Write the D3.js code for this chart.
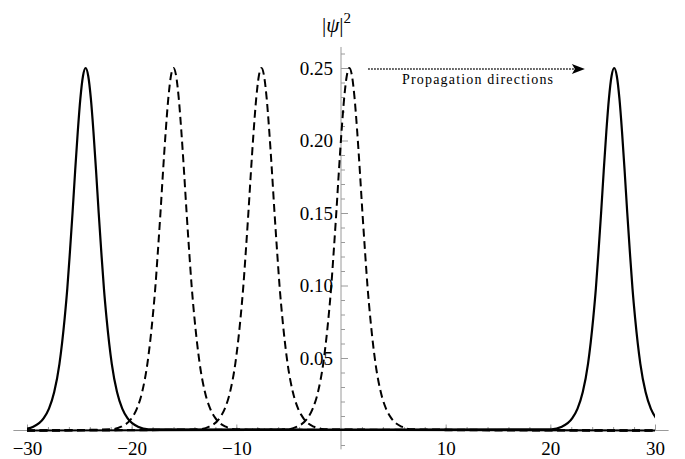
<!DOCTYPE html>
<html>
<head>
    <meta charset="utf-8" />
    <title>|psi|^2 propagation</title>
    <script src="https://d3js.org/d3.v7.min.js"></script>
    <style>
        body { margin: 0; background: white; }
        text { font-family: "Liberation Serif", "Times New Roman", serif; fill: black; }
    </style>
</head>
<body>
    <svg id="chart" width="685" height="459"></svg>
    <script>

        // tick values
        let xTicksMajor = [-30, -20, -10, 10, 20, 30];
        let xTicksMinor = [-30, -28, -26, -24, -22, -20, -18, -16, -14, -12, -10, -8, -6, -4, -2,
            2, 4, 6, 8, 10, 12, 14, 16, 18, 20, 22, 24, 26, 28, 30];
        let yTicksMajor = [0.05, 0.10, 0.15, 0.20, 0.25];
        let yTicksMinor = [-0.01, 0.01, 0.02, 0.03, 0.04, 0.06, 0.07, 0.08, 0.09, 0.11, 0.12, 0.13, 0.14,
            0.16, 0.17, 0.18, 0.19, 0.21, 0.22, 0.23, 0.24, 0.26];

        // peak positions
        let solidCenters = [-24.4, 26.1];
        let dashedCenters = [-16.0, -7.6, 0.8];

        // pulse profile (offset from peak -> |psi|^2)
        let profileOffsets = [-6, -5, -4, -3.5, -3, -2.5, -2, -1.75, -1.5, -1.25, -1, -0.75, -0.5, -0.25, 0,
            0.25, 0.5, 0.75, 1, 1.25, 1.5, 1.75, 2, 2.5, 3, 3.5, 4, 5, 6];
        let profileValues = [0.0008, 0.0026, 0.0085, 0.0151, 0.0265, 0.046, 0.0775, 0.0978, 0.123, 0.150, 0.179, 0.206, 0.229, 0.2445, 0.25,
            0.2445, 0.229, 0.206, 0.179, 0.150, 0.123, 0.0978, 0.0775, 0.046, 0.0265, 0.0151, 0.0085, 0.0026, 0.0008];

        // arrow annotation
        let arrowFrom = 2.6, arrowTo = 23.3, arrowLevel = 0.2493;
        let noteText = "Propagation directions";

        let svg = d3.select("#chart");

        let x = d3.scaleLinear().domain([-30, 30]).range([27, 655]);
        let y = d3.scaleLinear().domain([0, 0.25]).range([430.5, 68]);

        let axisColor = "#9a9a9a";

        // clip curves to the plotted range
        svg.append("clipPath").attr("id", "plotclip")
            .append("rect")
            .attr("x", x(-30)).attr("y", 0)
            .attr("width", x(30) - x(-30)).attr("height", 459);

        // x axis
        svg.append("line")
            .attr("x1", x(-31.3)).attr("x2", x(31.3))
            .attr("y1", y(0)).attr("y2", y(0))
            .attr("stroke", axisColor).attr("stroke-width", 1);

        let gxMinor = svg.append("g").attr("transform", "translate(0," + y(0) + ")")
            .call(d3.axisBottom(x).tickValues(xTicksMinor).tickSize(-3.5).tickFormat(""));
        let gxMajor = svg.append("g").attr("transform", "translate(0," + y(0) + ")")
            .call(d3.axisBottom(x).tickValues(xTicksMajor).tickSize(-6).tickPadding(11)
                .tickFormat(d3.format("d")));

        // y axis
        svg.append("line")
            .attr("x1", x(0)).attr("x2", x(0))
            .attr("y1", y(-0.013)).attr("y2", y(0.2645))
            .attr("stroke", axisColor).attr("stroke-width", 1);

        let gyMinor = svg.append("g").attr("transform", "translate(" + x(0) + ",0)")
            .call(d3.axisLeft(y).tickValues(yTicksMinor).tickSize(-4).tickFormat(""));
        let gyMajor = svg.append("g").attr("transform", "translate(" + x(0) + ",0)")
            .call(d3.axisLeft(y).tickValues(yTicksMajor).tickSize(-7).tickPadding(8)
                .tickFormat(d3.format(".2f")));

        [gxMinor, gxMajor, gyMinor, gyMajor].forEach(function (g) {
            g.select(".domain").remove();
            g.selectAll(".tick line").attr("stroke", axisColor);
            g.selectAll(".tick text")
                .style("font-family", "'Liberation Serif', serif")
                .style("font-size", "19px")
                .attr("fill", "black");
        });

        // y axis title |psi|^2
        let title = svg.append("text")
            .attr("x", x(0) - 19).attr("y", 32)
            .style("font-size", "21px");
        title.append("tspan").text("|");
        title.append("tspan").text("ψ").style("font-style", "italic");
        title.append("tspan").text("|");
        title.append("tspan").text("2").attr("dy", -9).style("font-size", "15px");

        // build one pulse across the whole range
        function pulse(center) {
            let pts = profileOffsets.map(function (o, i) {
                return [center + o, profileValues[i]];
            });
            if (pts[0][0] > -30) pts.unshift([-30, 0]);
            if (pts[pts.length - 1][0] < 30) pts.push([30, 0]);
            return pts;
        }

        let line = d3.line()
            .x(function (d) { return x(d[0]); })
            .y(function (d) { return y(d[1]); })
            .curve(d3.curveMonotoneX);

        let curves = svg.append("g").attr("clip-path", "url(#plotclip)");

        curves.selectAll("path.dashed")
            .data(dashedCenters)
            .enter()
            .append("path")
            .attr("class", "dashed")
            .attr("d", function (c) { return line(pulse(c)); })
            .attr("fill", "none")
            .attr("stroke", "black")
            .attr("stroke-width", 2)
            .attr("stroke-dasharray", "8,4.5");

        curves.selectAll("path.solid")
            .data(solidCenters)
            .enter()
            .append("path")
            .attr("class", "solid")
            .attr("d", function (c) { return line(pulse(c)); })
            .attr("fill", "none")
            .attr("stroke", "black")
            .attr("stroke-width", 2.2);

        // propagation arrow
        svg.append("line")
            .attr("x1", x(arrowFrom)).attr("x2", x(arrowTo) - 11)
            .attr("y1", y(arrowLevel)).attr("y2", y(arrowLevel))
            .attr("stroke", "black").attr("stroke-width", 1.7)
            .attr("stroke-dasharray", "1.5,1.5");

        let tipX = x(arrowTo), tipY = y(arrowLevel);
        svg.append("path")
            .attr("d", "M" + tipX + "," + tipY
                + "L" + (tipX - 13) + "," + (tipY - 5)
                + "L" + (tipX - 10) + "," + tipY
                + "L" + (tipX - 13) + "," + (tipY + 5) + "Z")
            .attr("fill", "black");

        svg.append("text")
            .attr("x", x((arrowFrom + arrowTo) / 2) + 1)
            .attr("y", y(arrowLevel) + 15)
            .attr("text-anchor", "middle")
            .attr("textLength", 151)
            .style("font-size", "14px")
            .text(noteText);

    </script>
</body>
</html>
